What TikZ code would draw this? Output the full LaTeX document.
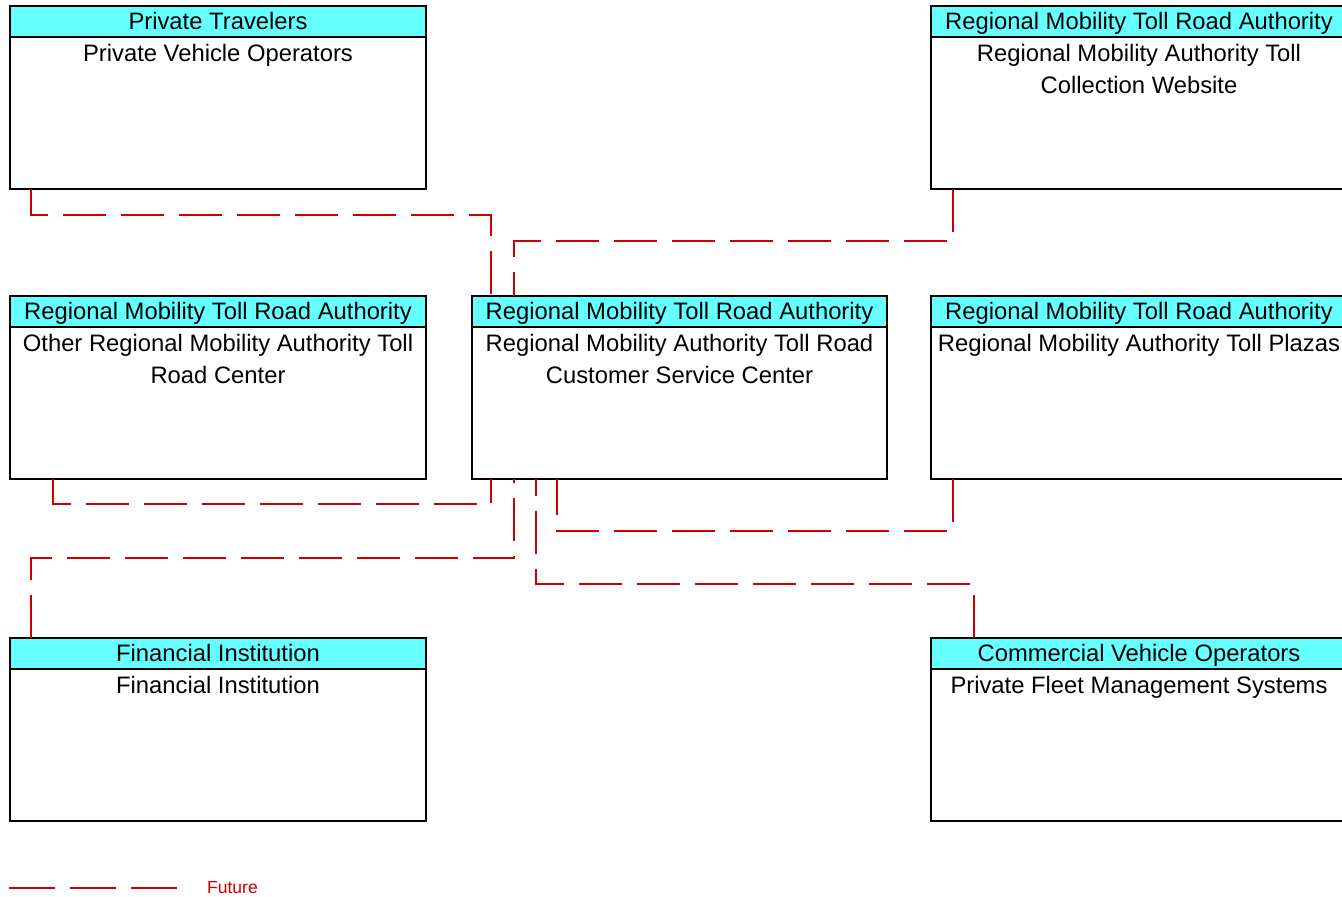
\documentclass[tikz,border=0pt]{standalone}
\usepackage{fontspec}
\setmainfont{Liberation Sans}
\definecolor{hdrcyan}{HTML}{66FFFF}
\definecolor{futred}{HTML}{CC0000}
\begin{document}
\begin{tikzpicture}[x=1pt,y=-1pt,
  box/.style={draw=black, line width=1.3pt, fill=white, minimum width=416pt, minimum height=183pt, anchor=north west, inner sep=0pt, outer sep=0pt},
  hdr/.style={draw=black, line width=1.3pt, fill=hdrcyan, minimum width=416pt, minimum height=31pt, anchor=north, inner sep=0pt, outer sep=0pt},
  txt/.style={anchor=base, inner sep=0pt, font=\fontsize{23.8}{31}\selectfont},
  fut/.style={draw=futred, line width=1.4pt, dash pattern=on 43pt off 15pt},
  legtxt/.style={anchor=west, inner sep=0pt, text=futred, font=\fontsize{17.5}{20}\selectfont}]
\useasboundingbox (0,0) rectangle (1342,897);
\fill[white] (0,0) rectangle (1342,897);
\clip (0,0) rectangle (1342,897);

% boxes
\node[box] (pv) at (10,6) {};
\node[hdr] (pvh) at (pv.north) {};
\node[txt] (pvt) at ([yshift=-23]pv.north) {Private Travelers};
\node[txt] (pvb) at ([yshift=-55]pv.north) {Private Vehicle Operators};

\node[box] (web) at (931,6) {};
\node[hdr] (webh) at (web.north) {};
\node[txt] (webt) at ([yshift=-23]web.north) {Regional Mobility Toll Road Authority};
\node[txt] (webb1) at ([yshift=-55]web.north) {Regional Mobility Authority Toll};
\node[txt] (webb2) at ([yshift=-87]web.north) {Collection Website};

\node[box] (oth) at (10,296) {};
\node[hdr] (othh) at (oth.north) {};
\node[txt] (otht) at ([yshift=-23]oth.north) {Regional Mobility Toll Road Authority};
\node[txt] (othb1) at ([yshift=-55]oth.north) {Other Regional Mobility Authority Toll};
\node[txt] (othb2) at ([yshift=-87]oth.north) {Road Center};

\node[box, minimum width=415pt] (cs) at (472,296) {};
\node[hdr, minimum width=415pt] (csh) at (cs.north) {};
\node[txt] (cst) at ([yshift=-23]cs.north) {Regional Mobility Toll Road Authority};
\node[txt] (csb1) at ([yshift=-55]cs.north) {Regional Mobility Authority Toll Road};
\node[txt] (csb2) at ([yshift=-87]cs.north) {Customer Service Center};

\node[box] (pl) at (931,296) {};
\node[hdr] (plh) at (pl.north) {};
\node[txt] (plt) at ([yshift=-23]pl.north) {Regional Mobility Toll Road Authority};
\node[txt] (plb) at ([yshift=-55]pl.north) {Regional Mobility Authority Toll Plazas};

\node[box] (fin) at (10,638) {};
\node[hdr] (finh) at (fin.north) {};
\node[txt] (fint) at ([yshift=-23]fin.north) {Financial Institution};
\node[txt] (finb) at ([yshift=-55]fin.north) {Financial Institution};

\node[box] (fl) at (931,638) {};
\node[hdr] (flh) at (fl.north) {};
\node[txt] (flt) at ([yshift=-23]fl.north) {Commercial Vehicle Operators};
\node[txt] (flb) at ([yshift=-55]fl.north) {Private Fleet Management Systems};

% connectors
\draw[fut] ([xshift=21]pv.south west) -- ++(0,26) -| ([xshift=19]cs.north west);
\draw[fut] ([xshift=22]web.south west) -- ++(0,52) -| ([xshift=42]cs.north west);
\draw[fut] ([xshift=43]oth.south west) -- ++(0,25) -| ([xshift=19]cs.south west);
\draw[fut] ([xshift=22]pl.south west) -- ++(0,52) -| ([xshift=85]cs.south west);
\draw[fut] ([xshift=21]fin.north west) -- ++(0,-80) -| ([xshift=42]cs.south west);
\draw[fut] ([xshift=43]fl.north west) -- ++(0,-54) -| ([xshift=64]cs.south west);

% legend
\coordinate (lg1) at (9,888);
\coordinate (lg2) at (178,888);
\draw[fut, dash pattern=on 46pt off 15pt] (lg1) -- (lg2);
\node[legtxt] (lgt) at (207,888) {Future};
\end{tikzpicture}
\end{document}
